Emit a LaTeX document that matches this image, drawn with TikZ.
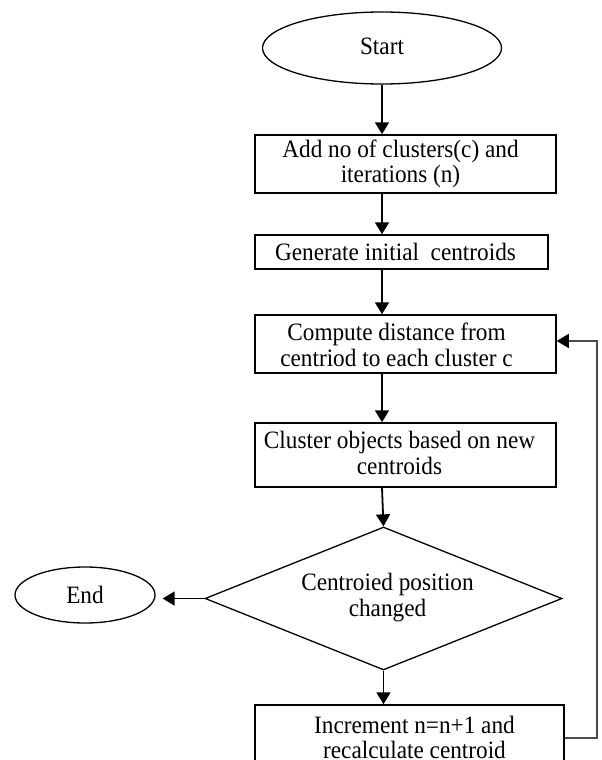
\documentclass[tikz,border=0pt]{standalone}
\usepackage{fontspec}
\setmainfont[FakeStretch=0.93]{Liberation Serif}
\usetikzlibrary{shapes.geometric,arrows.meta}

\tikzset{
  txt/.style={font=\fontsize{25}{25.5}\selectfont, align=center, inner sep=0pt},
  stepbox/.style={draw, line width=1.5pt, rectangle, inner sep=0pt},
  terminal/.style={draw, line width=1.3pt, ellipse, inner sep=0pt},
  decision/.style={draw, line width=1.3pt, diamond, inner sep=0pt},
  flow/.style={line width=1.8pt, -{Triangle[length=12pt,width=14pt]}},
  loopback/.style={line width=1.5pt, draw=black!70,
    -{Triangle[length=12pt,width=14pt,color=black]}}
}

\begin{document}
\begin{tikzpicture}[x=1pt, y=-1pt]
  \useasboundingbox (0,0) rectangle (602,760);
  \clip (0,0) rectangle (602,760);
  \fill[white] (0,0) rectangle (602,760);

  % terminals
  \node[terminal, minimum width=239pt, minimum height=72pt,
        label={[txt, yshift=2pt]center:Start}] (start) at (382,48) {};
  \node[terminal, minimum width=140pt, minimum height=56pt,
        label={[txt]center:End}] (stop) at (85,595) {};

  % process steps
  \node[stepbox, minimum width=301pt, minimum height=58pt,
        label={[txt, xshift=-5pt]center:Add no of clusters(c) and\\iterations (n)}]
        (b1) at (405.5,164) {};
  \node[stepbox, minimum width=293pt, minimum height=34pt,
        label={[txt, xshift=-6pt]center:Generate initial\ \ centroids}]
        (b2) at (401.5,252) {};
  \node[stepbox, minimum width=301pt, minimum height=58pt,
        label={[txt, xshift=-9pt, yshift=-1pt]center:Compute distance from\\centriod to each cluster c}]
        (b3) at (405.5,344) {};
  \node[stepbox, minimum width=301pt, minimum height=64pt,
        label={[txt, xshift=-6pt, yshift=2pt]center:Cluster objects\ based on new\\centroids}]
        (b4) at (405.5,455) {};
  \node[decision, minimum width=357pt, minimum height=143pt,
        label={[txt, xshift=4pt, yshift=1pt]center:Centroied position\\changed}]
        (dec) at (383.5,598.5) {};
  \node[stepbox, minimum width=309pt, minimum height=70pt,
        label={[txt, xshift=5pt, yshift=2.5pt]center:Increment n=n+1 and\\recalculate\ centroid}]
        (b5) at (409.5,740) {};

  % main flow
  \draw[flow] (start.south) -- (start.south |- b1.north);
  \draw[flow] (b1.south -| start.south) -- (b2.north -| start.south);
  \draw[flow] (b2.south -| start.south) -- (b3.north -| start.south);
  \draw[flow] (b3.south -| start.south) -- (b4.north -| start.south);
  \draw[flow] (b4.south -| start.south) -- (dec.north);
  \draw[flow] (dec.south) -- (b5.north -| dec.south);
  \draw[flow, shorten >=7pt] (dec.west) -- (stop.east |- dec.west);

  % loop back to the distance step
  \coordinate (loopcorner) at (597,738);
  \coordinate (loopturn) at (597,341);
  \draw[loopback] (b5.east |- loopcorner) -- (loopcorner) -- (loopturn)
        -- (b3.east |- loopturn);
\end{tikzpicture}
\end{document}
